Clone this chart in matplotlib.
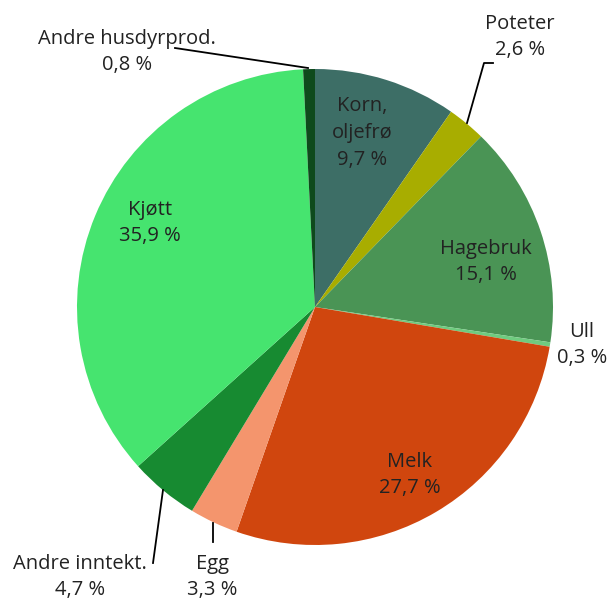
import matplotlib
matplotlib.use("Agg")
import matplotlib.pyplot as plt

labels = ["Korn,\noljefrø", "Poteter", "Hagebruk", "Ull", "Melk", "Egg",
          "Andre inntekt.", "Kjøtt", "Andre husdyrprod."]
values = [9.7, 2.6, 15.1, 0.3, 27.7, 3.3, 4.7, 35.9, 0.8]
colors = ["#3D6E66", "#A8AD00", "#4A9455", "#6FCB7F", "#D0460E", "#F4956D",
          "#178A31", "#46E46F", "#0E4A1C"]

W, H = 609, 600
fig = plt.figure(figsize=(W / 100, H / 100), dpi=100)
ax = fig.add_axes([0, 0, 1, 1])

cx, cy, r = 315, H - 307, 238
ax.pie(values, colors=colors, startangle=90, counterclock=False,
       center=(cx, cy), radius=r, frame=True,
       wedgeprops=dict(linewidth=0))
ax.set_xlim(0, W)
ax.set_ylim(0, H)
ax.set_aspect("equal")
ax.axis("off")

font = dict(family="Open Sans", fontsize=14.5, color="#222222",
            ha="center", va="center", linespacing=1.45)

def pct(v):
    return f"{v:.1f}".replace(".", ",") + " %"

# label positions in pixel coords (x, y from top)
pos = [(362, 133), (520, 37), (486, 262), (582, 345), (410, 475),
       (212, 577), (80, 577), (150, 223), (127, 52)]
for lab, v, (x, y) in zip(labels, values, pos):
    ax.text(x, H - y, f"{lab}\n{pct(v)}", **font)

# leader lines
lines = [
    [(175, 48), (308, 68)],
    [(493, 63), (484, 63), (467, 123)],
    [(163, 490), (153, 563)],
    [(213, 523), (213, 542)],
]
for pts in lines:
    xs = [p[0] for p in pts]
    ys = [H - p[1] for p in pts]
    ax.plot(xs, ys, color="black", lw=1.3)

fig.savefig("out.png", dpi=100)
